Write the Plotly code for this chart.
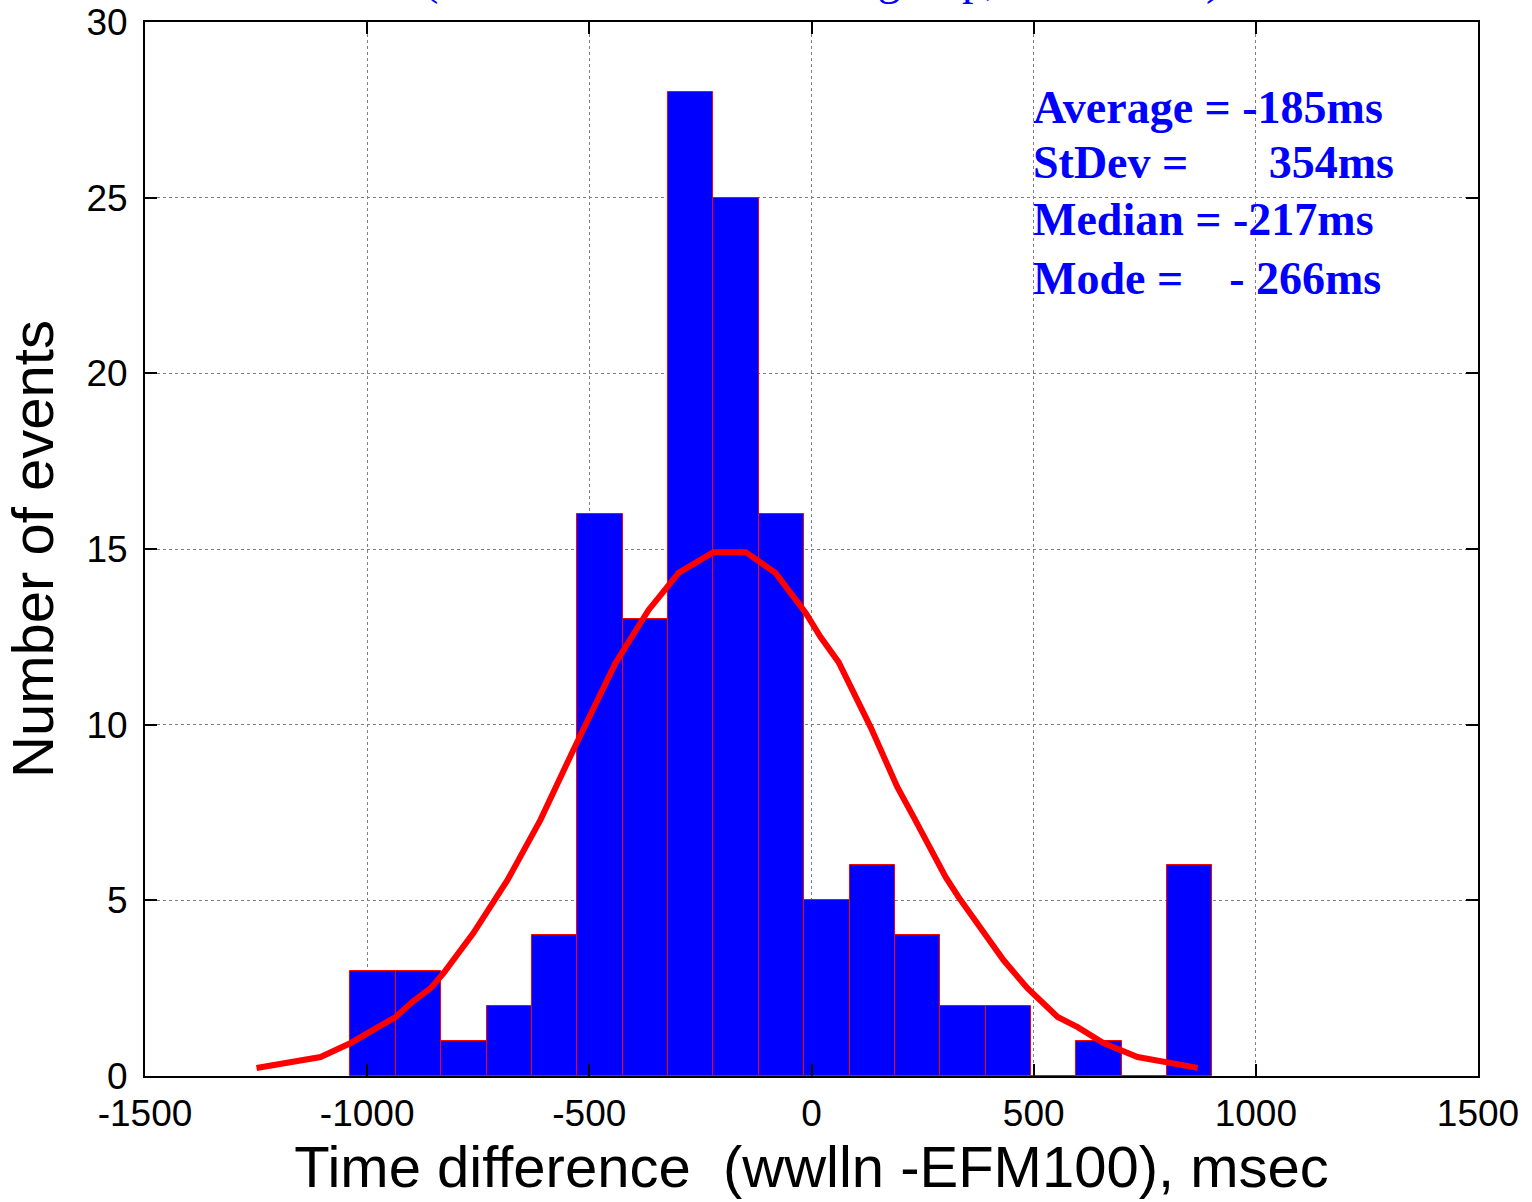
import plotly.graph_objects as go

# Histogram: bin centres (ms) and counts
bin_centers = [-986.5, -884.4, -782.3, -680.2, -578.1, -476.0, -373.9, -271.8, -169.7,
               -67.6, 34.5, 136.6, 238.7, 340.8, 442.9, 545.0, 647.1, 749.2, 851.3]
bin_width = 102.1
counts = [3, 3, 1, 2, 4, 16, 13, 28, 25, 16, 5, 6, 4, 2, 2, 0, 1, 0, 6]

# Fitted normal curve
fit_x = [-1249, -1172, -1105, -1037, -936, -898, -857, -828, -761, -684, -610, -536,
         -441, -367, -299, -221, -148, -81, -13, 20, 61, 133, 193, 230, 302, 331,
         380, 432, 486, 515, 554, 599, 657, 734, 869]
fit_y = [0.23, 0.40, 0.54, 0.94, 1.68, 2.11, 2.50, 2.93, 4.07, 5.58, 7.29, 9.28,
         11.76, 13.26, 14.32, 14.91, 14.91, 14.32, 13.18, 12.50, 11.78, 9.93, 8.23, 7.37,
         5.66, 5.09, 4.24, 3.30, 2.50, 2.16, 1.68, 1.39, 0.94, 0.54, 0.23]

x_ticks = [-1500, -1000, -500, 0, 500, 1000, 1500]
x_tick_labels = ["-1500", "-1000", "-500", "0", "500", "1000", "1500"]
y_ticks = [0, 5, 10, 15, 20, 25, 30]
y_tick_labels = ["0", "5", "10", "15", "20", "25", "30"]

stats_lines = ["Average = -185ms",
               "StDev =\u00a0\u00a0\u00a0\u00a0\u00a0\u00a0 354ms",
               "Median = -217ms",
               "Mode =\u00a0\u00a0\u00a0 - 266ms"]
stats_y = [27.58, 25.99, 24.37, 22.71]

fig = go.Figure()
fig.add_trace(go.Bar(x=bin_centers, y=counts, width=bin_width,
                     marker=dict(color="#0000FF", line=dict(color="#FF0000", width=1)),
                     showlegend=False))
fig.add_trace(go.Scatter(x=fit_x, y=fit_y, mode="lines",
                         line=dict(color="#FF0000", width=6), showlegend=False))

for txt, yy in zip(stats_lines, stats_y):
    fig.add_annotation(x=493, y=yy, xref="x", yref="y", text=txt, showarrow=False,
                       xanchor="left", yanchor="middle",
                       font=dict(family="Liberation Serif", size=46, color="#0000FF",
                                 weight="bold"))

# clipped title at the very top
fig.add_annotation(x=0.508, y=1.0150, xref="paper", yref="paper",
                   text="(Time differences of the group, 137 events)", showarrow=False,
                   xanchor="center", yanchor="bottom",
                   font=dict(family="Liberation Serif", size=46, color="#0000FF"))

axis_common = dict(showline=True, linecolor="black", linewidth=2, mirror="ticks",
                   ticks="inside", ticklen=12, tickwidth=2, tickcolor="black",
                   showgrid=True, gridcolor="#808080", gridwidth=1, griddash="dot",
                   zeroline=False, automargin=False, ticklabeloverflow="allow",
                   tickfont=dict(family="Liberation Sans", size=37, color="black"))

fig.update_layout(
    width=1532, height=1202,
    margin=dict(l=145, r=54, t=22, b=126),
    paper_bgcolor="white", plot_bgcolor="white",
    bargap=0,
    xaxis=dict(range=[-1500, 1500], tickvals=x_ticks, ticktext=x_tick_labels,
               ticklabelstandoff=4,
               title=dict(text="Time difference\u00a0 (wwlln -EFM100), msec",
                          font=dict(family="Liberation Sans", size=58, color="black"),
                          standoff=6),
               **axis_common),
    yaxis=dict(range=[0, 30], tickvals=y_ticks, ticktext=y_tick_labels,
               ticklabelstandoff=8,
               title=dict(text="Number of events",
                          font=dict(family="Liberation Sans", size=58, color="black"),
                          standoff=14),
               **axis_common),
)

fig.write_html("out.html", config={"displayModeBar": False},
               post_script="document.body.style.margin='0';document.body.style.overflow='hidden';")
